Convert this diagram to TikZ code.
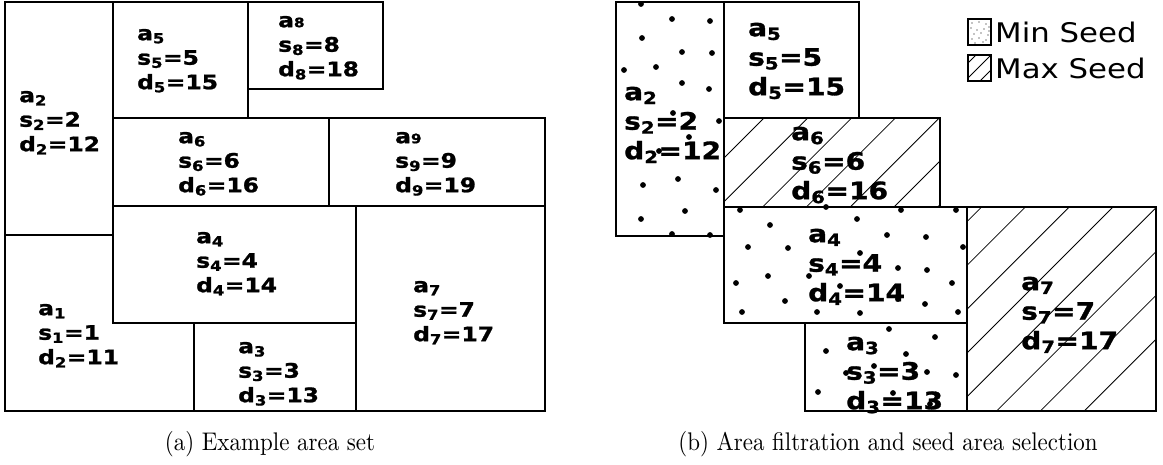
\documentclass[tikz,border=0pt]{standalone}
\usepackage{fontspec}
\newfontfamily\areafont[FakeStretch=1.17, BoldFeatures={FakeBold=1.2}]{DejaVu Sans}
\newfontfamily\legendfont[FakeStretch=1.14]{DejaVu Sans}
\newfontfamily\capfont{lmroman10-regular}[Extension=.otf, FakeStretch=0.9]
\newcommand\topstrut{\rule{0pt}{1em}}
\newcommand\smalldigit[1]{{\fontsize{13}{13}\selectfont #1}}
\tikzset{
  region/.style={line width=2.2pt, line join=miter},
  hatchline/.style={line width=0.8pt},
  seed/.style={radius=2.9},
  lname/.style={anchor=north west, inner sep=0pt, align=left,
    font=\areafont\bfseries\fontsize{20}{24.5}\selectfont},
  rname/.style={anchor=north west, inner sep=0pt, align=left,
    font=\areafont\bfseries\fontsize{24}{29.5}\selectfont},
  legendbox/.style={line width=1.6pt},
  legendtext/.style={anchor=base west, inner sep=0pt,
    font=\legendfont\fontsize{27}{30}\selectfont},
  subcaption/.style={anchor=base, inner sep=0pt, font=\capfont\fontsize{25.5}{30}\selectfont},
}
\begin{document}
\begin{tikzpicture}[x=1pt,y=-1pt]
\useasboundingbox (0,0) rectangle (1163,464);

% ---------- (a) example area set ----------
\draw[region] (5,2) rectangle (113,235);      % a2
\draw[region] (113,2) rectangle (248,118);    % a5
\draw[region] (248,2) rectangle (383,89);     % a8
\draw[region] (113,118) rectangle (329,206);  % a6
\draw[region] (329,118) rectangle (545,206);  % a9
\draw[region] (113,206) rectangle (356,323);  % a4
\draw[region] (5,235) -- (113,235) -- (113,323) -- (194,323)
              -- (194,411) -- (5,411) -- cycle; % a1
\draw[region] (194,323) rectangle (356,411);  % a3
\draw[region] (356,206) rectangle (545,411);  % a7

\node[lname] (la5) at (137,20)  {\topstrut a\textsubscript{5}\\s\textsubscript{5}=5\\d\textsubscript{5}=15};
\node[lname] (la8) at (278,7)   {\topstrut a\smalldigit{8}\\s\textsubscript{8}=8\\d\textsubscript{8}=18};
\node[lname] (la2) at (19,82)   {\topstrut a\textsubscript{2}\\s\textsubscript{2}=2\\d\textsubscript{2}=12};
\node[lname] (la6) at (178,123) {\topstrut a\textsubscript{6}\\s\textsubscript{6}=6\\d\textsubscript{6}=16};
\node[lname] (la9) at (395,123) {\topstrut a\smalldigit{9}\\s\textsubscript{9}=9\\d\textsubscript{9}=19};
\node[lname] (la4) at (196,223) {\topstrut a\textsubscript{4}\\s\textsubscript{4}=4\\d\textsubscript{4}=14};
\node[lname] (la7) at (413,272) {\topstrut a\textsubscript{7}\\s\textsubscript{7}=7\\d\textsubscript{7}=17};
\node[lname] (la1) at (38,295)  {\topstrut a\textsubscript{1}\\s\textsubscript{1}=1\\d\textsubscript{2}=11};
\node[lname] (la3) at (238,333) {\topstrut a\textsubscript{3}\\s\textsubscript{3}=3\\d\textsubscript{3}=13};

% ---------- (b) filtration and seed selection ----------
% max-seed hatching
\begin{scope}
  \clip (724,118) rectangle (940,207) (967,207) rectangle (1156,411);
  \foreach \k in {-3,...,14}
    \draw[hatchline] ({882+43.8*\k-500},500) -- ({882+43.8*\k+500},-500);
\end{scope}

\draw[region] (616,2) rectangle (724,236);    % a2
\draw[region] (724,2) rectangle (859,118);    % a5
\draw[region] (724,118) rectangle (940,207);  % a6
\draw[region] (724,207) rectangle (967,323);  % a4
\draw[region] (805,323) rectangle (967,411);  % a3
\draw[region] (967,207) rectangle (1156,411); % a7

\node[rname] (ra2) at (624,76)   {\topstrut a\textsubscript{2}\\s\textsubscript{2}=2\\d\textsubscript{2}=12};
\node[rname] (ra5) at (748,12)   {\topstrut a\textsubscript{5}\\s\textsubscript{5}=5\\d\textsubscript{5}=15};
\node[rname] (ra6) at (791,116)  {\topstrut a\textsubscript{6}\\s\textsubscript{6}=6\\d\textsubscript{6}=16};
\node[rname] (ra4) at (808,218)  {\topstrut a\textsubscript{4}\\s\textsubscript{4}=4\\d\textsubscript{4}=14};
\node[rname] (ra3) at (846,326)  {\topstrut a\textsubscript{3}\\s\textsubscript{3}=3\\d\textsubscript{3}=13};
\node[rname] (ra7) at (1021,266) {\topstrut a\textsubscript{7}\\s\textsubscript{7}=7\\d\textsubscript{7}=17};

% min-seed dots
\foreach \x/\y in {641/4,672/19,710/21,642/38,682/52,712/53,624/70,656/67,682/83,709/89,
                   719/121,673/113,689/137,659/151,643/185,678/179,716/190,641/219,685/211,
                   672/234,710/235,
                   740/210,826/207,901/210,956/210,770/225,857/219,887/235,926/237,748/247,
                   788/248,963/247,860/253,898/268,927/270,768/276,809/276,736/283,840/286,
                   898/299,952/283,785/301,925/304,742/312,817/312,860/313,958/312,
                   889/329,935/337,826/351,906/354,874/366,846/373,927/372,956/375,818/392,
                   893/393,930/404}
  \fill[seed] (\x,\y) circle;

% ---------- legend ----------
\foreach \x/\y in {972/23,979/22,986/24,971/28,977/30,984/29,989/27,974/34,981/33,988/35,
                   972/39,979/38,986/40,975/43,983/42,989/31}
  \fill (\x,\y) circle[radius=0.6];
\draw[legendbox] (968,19) rectangle (991,45);
\node[legendtext] (lmin) at (995,42) {Min Seed};

\begin{scope}
  \clip (968,55) rectangle (991,81);
  \foreach \k in {0,...,3}
    \draw[hatchline] ({1031+15*\k-100},100) -- ({1031+15*\k+100},-100);
\end{scope}
\draw[legendbox] (968,55) rectangle (991,81);
\node[legendtext] (lmax) at (995,78) {Max Seed};

% ---------- captions ----------
\node[subcaption] (capa) at (270,450) {(a) Example area set};
\node[subcaption] (capb) at (888,450) {(b) Area filtration and seed area selection};
\end{tikzpicture}
\end{document}
